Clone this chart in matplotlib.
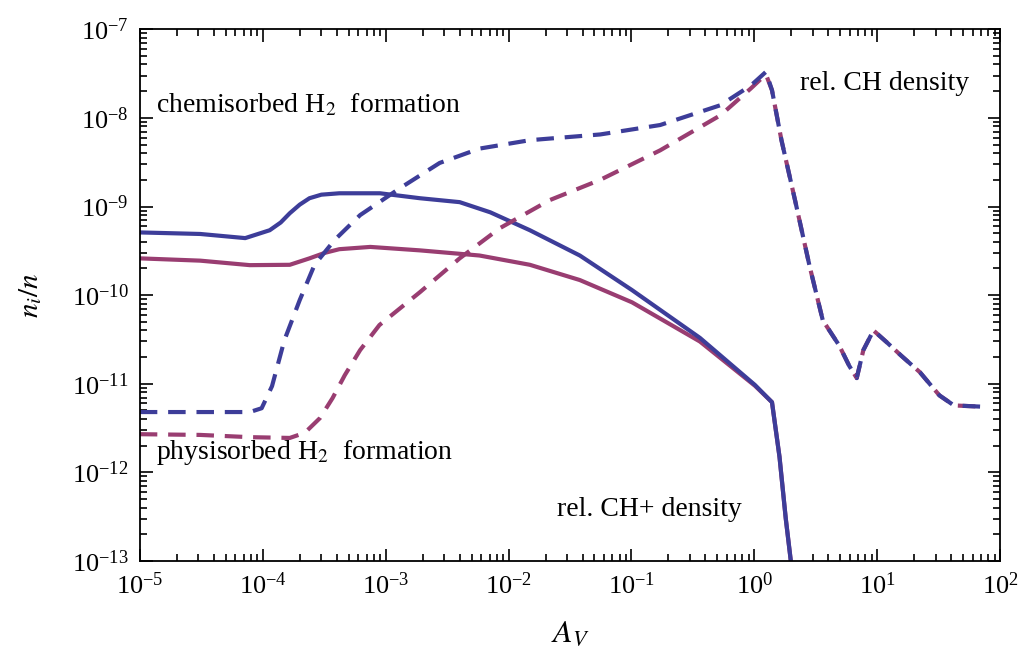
import matplotlib
matplotlib.use('Agg')
import matplotlib.pyplot as plt
from matplotlib.ticker import LogLocator, NullFormatter

plt.rcParams['font.family'] = ['Liberation Serif', 'DejaVu Serif']
plt.rcParams['mathtext.fontset'] = 'stix'

BLUE = '#3d3d99'
PURPLE = '#993d71'

# chemisorbed H2 formation (solid) / rel. CH density (dashed), blue
av_chem = [1e-5, 3.1e-5, 7.2e-5, 1.14e-4, 1.4e-4, 1.66e-4, 2.0e-4, 2.4e-4, 3.0e-4, 4.2e-4, 9.0e-4,
           1.9e-3, 4.0e-3, 7.1e-3, 0.0149, 0.038, 0.101, 0.36, 1.01, 1.39, 1.6, 1.8, 2.1]
n_chem = [5.1e-10, 4.9e-10, 4.4e-10, 5.4e-10, 6.6e-10, 8.4e-10, 1.05e-9, 1.24e-9, 1.36e-9, 1.41e-9, 1.41e-9,
          1.24e-9, 1.12e-9, 8.6e-10, 5.4e-10, 2.8e-10, 1.14e-10, 3.3e-11, 9.7e-12, 6.2e-12, 1.5e-12, 3e-13, 5e-14]

# physisorbed H2 formation (solid) / rel. CH+ density, purple
av_phys = [1e-5, 3.1e-5, 7.85e-5, 1.66e-4, 2.4e-4, 3.2e-4, 4.2e-4, 7.5e-4, 1.9e-3, 5.8e-3, 0.0149,
           0.038, 0.101, 0.36, 1.01, 1.39, 1.6, 1.8, 2.1]
n_phys = [2.6e-10, 2.45e-10, 2.18e-10, 2.2e-10, 2.6e-10, 3.0e-10, 3.3e-10, 3.5e-10, 3.2e-10, 2.8e-10, 2.2e-10,
          1.48e-10, 8.3e-11, 3.0e-11, 9.5e-12, 6.2e-12, 1.5e-12, 3e-13, 5e-14]

# dashed curves, common tail beyond the CH peak
av_tail = [1.39, 1.66, 2.14, 2.8, 3.6, 4.9, 5.9, 6.8, 7.7, 9.3, 11.9, 15.5, 22.2, 32, 42, 75]
n_tail = [2.05e-8, 5.6e-9, 1.18e-9, 2.18e-10, 5.2e-11, 2.7e-11, 1.6e-11, 1.16e-11, 2.4e-11, 4.0e-11,
          2.95e-11, 2.1e-11, 1.35e-11, 7.4e-12, 5.7e-12, 5.5e-12]

av_chem_d = [1e-5, 3.1e-5, 7.85e-5, 9.8e-5, 1.19e-4, 1.5e-4, 2.0e-4, 2.64e-4, 3.85e-4, 6.2e-4,
             1.3e-3, 2.75e-3, 5.8e-3, 0.0149, 0.0557, 0.171, 0.53, 0.94, 1.24]
n_chem_d = [4.8e-12, 4.8e-12, 4.8e-12, 5.3e-12, 9.4e-12, 3.1e-11, 8.8e-11, 2.2e-10, 4.2e-10, 8.0e-10,
            1.6e-9, 3.1e-9, 4.5e-9, 5.6e-9, 6.5e-9, 8.3e-9, 1.39e-8, 2.33e-8, 3.3e-8]

av_phys_d = [1e-5, 3.1e-5, 7.85e-5, 1.66e-4, 2.2e-4, 2.92e-4, 3.7e-4, 4.65e-4, 6.2e-4, 8.9e-4,
             1.9e-3, 4.0e-3, 8.5e-3, 0.0216, 0.0557, 0.171, 0.53, 0.94, 1.24]
n_phys_d = [2.7e-12, 2.65e-12, 2.5e-12, 2.45e-12, 2.8e-12, 4.1e-12, 6.9e-12, 1.25e-11, 2.4e-11, 4.6e-11,
            1.08e-10, 2.6e-10, 5.7e-10, 1.18e-9, 2.0e-9, 4.3e-9, 1.07e-8, 2.16e-8, 3.1e-8]

fig = plt.figure(figsize=(10.28, 6.64), dpi=100)
ax = fig.add_axes([0.136, 0.155, 0.837, 0.801])

lw = 3.0
dash = (4.2, 2.6)
ax.plot(av_phys, n_phys, color=PURPLE, lw=lw, solid_joinstyle='round')
ax.plot(av_chem, n_chem, color=BLUE, lw=lw, solid_joinstyle='round')
ax.plot(av_phys_d + av_tail, n_phys_d + n_tail, color=PURPLE, lw=lw, dashes=dash)
ax.plot(av_chem_d + av_tail, n_chem_d + n_tail, color=BLUE, lw=lw, dashes=dash)

ax.set_xscale('log')
ax.set_yscale('log')
ax.set_xlim(1e-5, 1e2)
ax.set_ylim(1e-13, 1e-7)

ax.xaxis.set_major_locator(LogLocator(base=10, numticks=20))
ax.yaxis.set_major_locator(LogLocator(base=10, numticks=20))
ax.xaxis.set_minor_locator(LogLocator(base=10, subs=range(2, 10), numticks=20))
ax.yaxis.set_minor_locator(LogLocator(base=10, subs=range(2, 10), numticks=20))
ax.xaxis.set_minor_formatter(NullFormatter())
ax.yaxis.set_minor_formatter(NullFormatter())
ax.tick_params(which='both', direction='in', top=True, right=True, labelsize=19, width=1.2)
ax.tick_params(which='major', length=9, pad=8)
ax.tick_params(which='minor', length=5)
for s in ax.spines.values():
    s.set_linewidth(1.3)

ax.set_xlabel(r'$A_V$', fontsize=23, labelpad=15)
ax.set_ylabel(r'$n_i/n$', fontsize=21, labelpad=20)

ax.text(1.35e-5, 1.39e-8, r'chemisorbed H$_2$  formation', fontsize=20, va='center')
ax.text(1.35e-5, 1.7e-12, r'physisorbed H$_2$  formation', fontsize=20, va='center')
ax.text(0.025, 3.8e-13, 'rel. CH+ density', fontsize=20, va='center')
ax.text(2.35, 2.46e-8, 'rel. CH density', fontsize=20, va='center')

fig.savefig('out.png', dpi=100)
